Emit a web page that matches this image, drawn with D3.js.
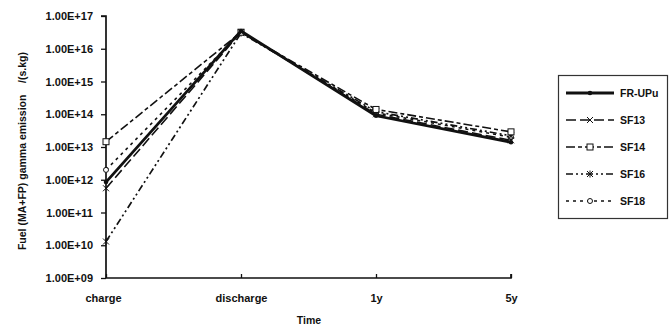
<!DOCTYPE html>
<html>
<head>
<meta charset="utf-8">
<script src="https://cdn.jsdelivr.net/npm/d3@7"></script>
<style>
  body { margin: 0; background: #fff; }
  text { font-family: "Liberation Sans", Arial, sans-serif; font-weight: bold; fill: #111; }
</style>
</head>
<body>
<div id="chart"></div>
<script>
let categories = ["charge", "discharge", "1y", "5y"];
let tickValues = [1e9, 1e10, 1e11, 1e12, 1e13, 1e14, 1e15, 1e16, 1e17];
let tickLabels = ["1.00E+09", "1.00E+10", "1.00E+11", "1.00E+12", "1.00E+13",
                  "1.00E+14", "1.00E+15", "1.00E+16", "1.00E+17"];

let seriesNames = ["FR-UPu", "SF13", "SF14", "SF16", "SF18"];
let frUPu = [8.5e11, 3.5e16, 9.0e13, 1.4e13];
let sf13  = [5.5e11, 3.2e16, 1.0e14, 1.6e13];
let sf14  = [1.45e13, 3.2e16, 1.4e14, 2.9e13];
let sf16  = [1.3e10, 3.0e16, 1.2e14, 2.2e13];
let sf18  = [2.0e12, 3.2e16, 1.1e14, 2.0e13];

let seriesValues = [frUPu, sf13, sf14, sf16, sf18];

// line look per series
let styles = {
    "FR-UPu": {dash: null, width: 2.8, marker: "dot"},
    "SF13": {dash: "10,4", width: 1.6, marker: "cross"},
    "SF14": {dash: "9,3,4,3", width: 1.6, marker: "square"},
    "SF16": {dash: "7,3,2,3,2,3", width: 1.7, marker: "star"},
    "SF18": {dash: "3,4", width: 1.6, marker: "circle"}
};

let width = 669, height = 328;

let svg = d3.select("#chart").append("svg")
    .attr("width", width)
    .attr("height", height);

let x = d3.scalePoint()
    .domain(categories)
    .range([106, 511]);

let y = d3.scaleLog()
    .domain([1e9, 1e17])
    .range([278, 16]);

// y axis
let yAxis = d3.axisLeft(y)
    .tickValues(tickValues)
    .tickFormat((d, i) => tickLabels[i])
    .tickSize(5)
    .tickPadding(8);

let gy = svg.append("g")
    .attr("transform", "translate(106,0)")
    .call(yAxis);
gy.select(".domain").attr("stroke", "#111").attr("stroke-width", 1.7)
    .attr("d", "M-5,16H0V278");
gy.selectAll(".tick line").attr("stroke", "#111").attr("stroke-width", 1.3);
gy.selectAll(".tick text").style("font-size", "11px")
    .style("font-family", "'Liberation Sans', Arial, sans-serif")
    .style("font-weight", "bold").attr("fill", "#111");

// x axis
let xAxis = d3.axisBottom(x)
    .tickSize(-4)
    .tickPadding(16);

let gx = svg.append("g")
    .attr("transform", "translate(0,278)")
    .call(xAxis);
gx.select(".domain").attr("stroke", "#111").attr("stroke-width", 1.7)
    .attr("d", "M106,0H511V-4");
gx.selectAll(".tick line").attr("stroke", "#111").attr("stroke-width", 1.3);
gx.selectAll(".tick text").style("font-size", "11px")
    .style("font-family", "'Liberation Sans', Arial, sans-serif")
    .style("font-weight", "bold").attr("fill", "#111")
    .attr("dx", (d, i) => i == 0 ? -3 : 0);

svg.append("text")
    .attr("x", 309)
    .attr("y", 324)
    .attr("text-anchor", "middle")
    .style("font-size", "10.5px")
    .text("Time");

svg.append("text")
    .attr("transform", "translate(26,151) rotate(-90)")
    .attr("text-anchor", "middle")
    .style("font-size", "10.5px")
    .style("white-space", "pre")
    .text("Fuel (MA+FP) gamma emission    /(s.kg)");

// lines
let line = d3.line()
    .x((d, i) => x(categories[i]))
    .y(d => y(d));

function drawMarker(g, type, cx, cy) {
    if (type == "dot") {
        g.append("circle").attr("cx", cx).attr("cy", cy).attr("r", 2.3)
            .attr("fill", "#111");
    } else if (type == "square") {
        g.append("rect").attr("x", cx - 3).attr("y", cy - 3)
            .attr("width", 6).attr("height", 6)
            .attr("fill", "#fff").attr("stroke", "#111").attr("stroke-width", 1);
    } else if (type == "circle") {
        g.append("circle").attr("cx", cx).attr("cy", cy).attr("r", 2.5)
            .attr("fill", "#fff").attr("stroke", "#111").attr("stroke-width", 1);
    } else if (type == "cross") {
        g.append("path")
            .attr("d", "M" + (cx - 3) + "," + (cy - 3) + "L" + (cx + 3) + "," + (cy + 3) +
                       "M" + (cx + 3) + "," + (cy - 3) + "L" + (cx - 3) + "," + (cy + 3))
            .attr("stroke", "#111").attr("stroke-width", 1).attr("fill", "none");
    } else if (type == "star") {
        g.append("path")
            .attr("d", "M" + (cx - 3) + "," + (cy - 3) + "L" + (cx + 3) + "," + (cy + 3) +
                       "M" + (cx + 3) + "," + (cy - 3) + "L" + (cx - 3) + "," + (cy + 3) +
                       "M" + cx + "," + (cy - 3.5) + "L" + cx + "," + (cy + 3.5))
            .attr("stroke", "#111").attr("stroke-width", 1).attr("fill", "none");
    }
}

let plot = svg.append("g").attr("class", "plot");

// draw dashed series first, solid on top
let order = [4, 3, 2, 1, 0];
order.forEach(function(k) {
    let name = seriesNames[k];
    let st = styles[name];
    let vals = seriesValues[k];
    let g = plot.append("g").attr("class", "series");
    g.append("path")
        .datum(vals)
        .attr("d", line)
        .attr("fill", "none")
        .attr("stroke", "#111")
        .attr("stroke-width", st.width)
        .attr("stroke-linejoin", "round")
        .attr("stroke-dasharray", st.dash);
    vals.forEach(function(v, i) {
        drawMarker(g, st.marker, x(categories[i]), y(v));
    });
});

// legend
let legend = svg.append("g").attr("class", "legend");
legend.append("rect")
    .attr("x", 558.5)
    .attr("y", 75.5)
    .attr("width", 109)
    .attr("height", 143)
    .attr("fill", "#fff")
    .attr("stroke", "#333")
    .attr("stroke-width", 1.2);

seriesNames.forEach(function(name, i) {
    let st = styles[name];
    let ly = 93 + i * 27;
    let g = legend.append("g");
    g.append("line")
        .attr("x1", 566).attr("x2", 614)
        .attr("y1", ly).attr("y2", ly)
        .attr("stroke", "#111")
        .attr("stroke-width", st.width)
        .attr("stroke-dasharray", st.dash);
    drawMarker(g, st.marker, 590, ly);
    g.append("text")
        .attr("x", 620)
        .attr("y", ly + 4)
        .style("font-size", "10.5px")
        .text(name);
});
</script>
</body>
</html>
